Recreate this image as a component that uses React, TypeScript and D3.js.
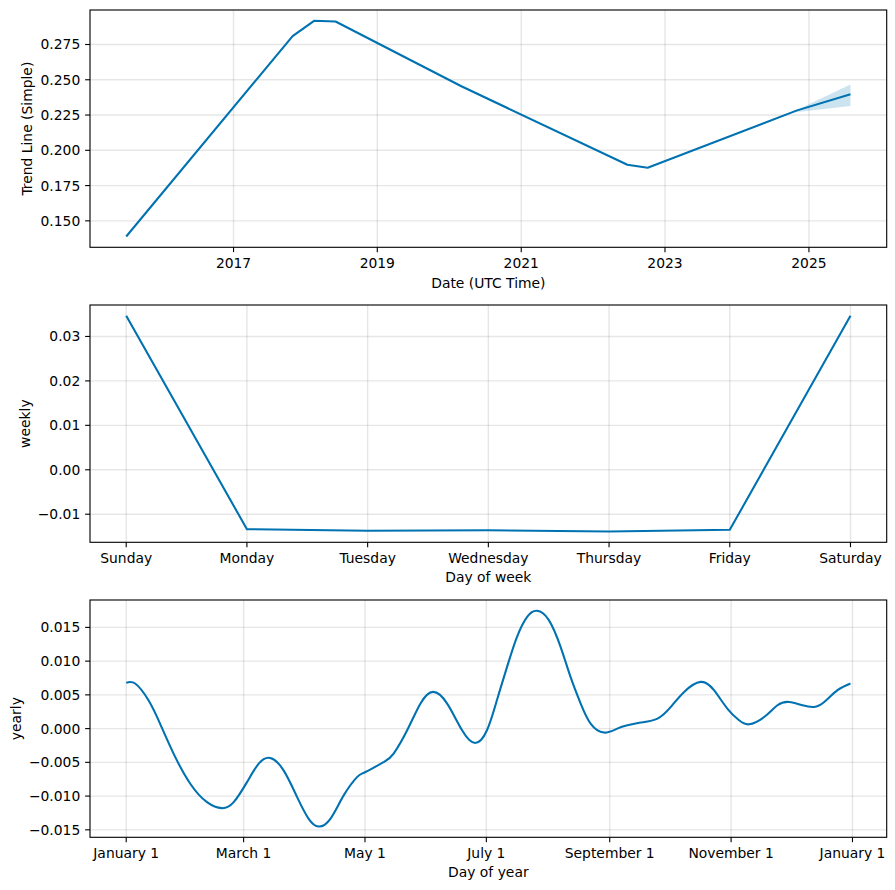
import React from "react";
import * as d3 from "d3";

// ---------- data ----------
const trendDates = ["2015-07-06", "2017-10-28", "2018-02-14", "2018-06-03", "2020-03-03", "2022-06-24", "2022-10-05", "2024-11-02", "2025-07-31"];
const trendValues = [0.1389, 0.2809, 0.2918, 0.2913, 0.2454, 0.1898, 0.1876, 0.2283, 0.2397];
const bandDates = ["2024-10-01", "2025-07-31"];
const bandUpper = [0.2266, 0.2467];
const bandLower = [0.2266, 0.2314];
const trendTickDates = ["2017-01-01", "2019-01-01", "2021-01-01", "2023-01-01", "2025-01-01"];
const trendTickLabels = ["2017", "2019", "2021", "2023", "2025"];
const trendYTicks = [0.15, 0.175, 0.2, 0.225, 0.25, 0.275];

const weekDays = ["Sunday", "Monday", "Tuesday", "Wednesday", "Thursday", "Friday", "Saturday"];
const weeklyValues = [0.03465, -0.01337, -0.01373, -0.0136, -0.01389, -0.01351, 0.03465];
const weeklyYTicks = [-0.01, 0, 0.01, 0.02, 0.03];

const yearlyDays = [0, 4.5, 11.2, 17, 23.8, 32.2, 40.6, 48.1, 54, 60.7, 66.6, 72.4, 79.1, 85.9, 91.7, 96.7, 102.6, 109.3, 116, 120.2, 129.4, 134.4, 141.2, 147.9, 154.2, 161.3, 168.8, 175.4, 181.3, 186.3, 191.4, 196.4, 201.5, 206.5, 212.4, 218.3, 223.3, 228.4, 233.4, 240.1, 246.8, 251.9, 258.6, 267, 273.7, 280.4, 288.7, 295.4, 302.1, 308, 313, 320.6, 327.3, 333.2, 339.9, 345.7, 350.8, 357.5, 364];
const yearlyValues = [0.00677, 0.00668, 0.0042, 0.00074, -0.00371, -0.00817, -0.0109, -0.01179, -0.0109, -0.00793, -0.0052, -0.00436, -0.00619, -0.01016, -0.01337, -0.01451, -0.01337, -0.0099, -0.00719, -0.00644, -0.00496, -0.00371, -0.00025, 0.00371, 0.00544, 0.00371, -0.00025, -0.00213, -0.00025, 0.0042, 0.00915, 0.0136, 0.01657, 0.01746, 0.01608, 0.01212, 0.00766, 0.00371, 0.00074, -0.00059, 0.0, 0.00049, 0.00089, 0.00148, 0.00321, 0.00544, 0.00692, 0.00569, 0.00297, 0.00123, 0.00064, 0.00172, 0.00346, 0.00395, 0.00346, 0.00321, 0.00395, 0.00569, 0.00668];
const yearlyTickDays = [0, 59, 120, 181, 243, 304, 365];
const yearlyTickLabels = ["January 1", "March 1", "May 1", "July 1", "September 1", "November 1", "January 1"];
const yearlyYTicks = [-0.015, -0.01, -0.005, 0, 0.005, 0.01, 0.015];

// ---------- layout ----------
const W = 895;
const H = 890;
const LEFT = 90;
const RIGHT = 886.7;
const PH = 237.3;
const TOPS = [10, 305, 600];
const FONT = "'DejaVu Sans', sans-serif";
const FS = 13.89;
const BLUE = "#0072B2";
const TICK = 4.86;

const parse = (s: string) => new Date(s + "T00:00:00Z");

function pad(ext: [number, number]): [number, number] {
  const m = (ext[1] - ext[0]) * 0.05;
  return [ext[0] - m, ext[1] + m];
}

const fmtMinus = (s: string) => s.replace("-", "\u2212");

type PanelProps = {
  top: number;
  xTicks: { x: number; label: string }[];
  yTicks: { y: number; label: string }[];
  xLabel: string;
  yLabel: string;
  yLabelX: number;
  xLabelY: number;
  children: React.ReactNode;
};

function Panel({ top, xTicks, yTicks, xLabel, yLabel, yLabelX, xLabelY, children }: PanelProps) {
  const bottom = top + PH;
  const clipId = "clip" + Math.round(top);
  return (
    <g>
      <defs>
        <clipPath id={clipId}>
          <rect x={LEFT} y={top} width={RIGHT - LEFT} height={PH} />
        </clipPath>
      </defs>
      {xTicks.map((t, i) => (
        <line key={"gx" + i} x1={t.x} x2={t.x} y1={top} y2={bottom} stroke="gray" strokeOpacity={0.2} strokeWidth={1.39} />
      ))}
      {yTicks.map((t, i) => (
        <line key={"gy" + i} x1={LEFT} x2={RIGHT} y1={t.y} y2={t.y} stroke="gray" strokeOpacity={0.2} strokeWidth={1.39} />
      ))}
      <g clipPath={`url(#${clipId})`}>{children}</g>
      <rect x={LEFT} y={top} width={RIGHT - LEFT} height={PH} fill="none" stroke="black" strokeWidth={1.11} />
      {xTicks.map((t, i) => (
        <g key={"tx" + i}>
          <line x1={t.x} x2={t.x} y1={bottom} y2={bottom + TICK} stroke="black" strokeWidth={1.11} />
          <text x={t.x} y={bottom + TICK + 4.86 + FS * 0.76} textAnchor="middle" fontFamily={FONT} fontSize={FS} fill="black">
            {t.label}
          </text>
        </g>
      ))}
      {yTicks.map((t, i) => (
        <g key={"ty" + i}>
          <line x1={LEFT - TICK} x2={LEFT} y1={t.y} y2={t.y} stroke="black" strokeWidth={1.11} />
          <text x={LEFT - TICK - 4.86} y={t.y} dy="0.36em" textAnchor="end" fontFamily={FONT} fontSize={FS} fill="black">
            {t.label}
          </text>
        </g>
      ))}
      <text x={(LEFT + RIGHT) / 2} y={xLabelY} dy="0.36em" textAnchor="middle" fontFamily={FONT} fontSize={FS} fill="black">
        {xLabel}
      </text>
      <text
        transform={`translate(${yLabelX},${top + PH / 2}) rotate(-90)`}
        dy="0.36em"
        textAnchor="middle"
        fontFamily={FONT}
        fontSize={FS}
        fill="black"
      >
        {yLabel}
      </text>
    </g>
  );
}

export default function App() {
  // ---- trend panel ----
  const tDates = trendDates.map(parse);
  const bDates = bandDates.map(parse);
  const tx = d3
    .scaleUtc()
    .domain(((): [Date, Date] => {
      const ext = d3.extent(tDates) as [Date, Date];
      const m = (ext[1].getTime() - ext[0].getTime()) * 0.05;
      return [new Date(ext[0].getTime() - m), new Date(ext[1].getTime() + m)];
    })())
    .range([LEFT, RIGHT]);
  const tAll = [...trendValues, ...bandUpper, ...bandLower];
  const ty = d3
    .scaleLinear()
    .domain(pad([d3.min(tAll)!, d3.max(tAll)!]))
    .range([TOPS[0] + PH, TOPS[0]]);
  const trendLine = d3
    .line<number>()
    .x((_, i) => tx(tDates[i]))
    .y((d) => ty(d))(trendValues)!;
  const bandArea = d3
    .area<number>()
    .x((_, i) => tx(bDates[i]))
    .y0((_, i) => ty(bandLower[i]))
    .y1((d) => ty(d))(bandUpper)!;

  // ---- weekly panel ----
  const wx = d3.scaleLinear().domain(pad([0, weekDays.length - 1])).range([LEFT, RIGHT]);
  const wy = d3
    .scaleLinear()
    .domain(pad([d3.min(weeklyValues)!, d3.max(weeklyValues)!]))
    .range([TOPS[1] + PH, TOPS[1]]);
  const weeklyLine = d3
    .line<number>()
    .x((_, i) => wx(i))
    .y((d) => wy(d))(weeklyValues)!;

  // ---- yearly panel ----
  const yx = d3.scaleLinear().domain(pad([0, 364])).range([LEFT, RIGHT]);
  const yy = d3
    .scaleLinear()
    .domain(pad([d3.min(yearlyValues)!, d3.max(yearlyValues)!]))
    .range([TOPS[2] + PH, TOPS[2]]);
  const yearlyLine = d3
    .line<number>()
    .x((_, i) => yx(yearlyDays[i]))
    .y((d) => yy(d))
    .curve(d3.curveNatural)(yearlyValues)!;

  const f3 = d3.format(".3f");
  const f2 = d3.format(".2f");

  return (
    <svg width={W} height={H} style={{ position: "absolute", left: 0, top: 0, background: "white" }}>
      <rect x={0} y={0} width={W} height={H} fill="white" />
      <Panel
        top={TOPS[0]}
        xTicks={trendTickDates.map((d, i) => ({ x: tx(parse(d)), label: trendTickLabels[i] }))}
        yTicks={trendYTicks.map((v) => ({ y: ty(v), label: fmtMinus(f3(v)) }))}
        xLabel="Date (UTC Time)"
        yLabel="Trend Line (Simple)"
        yLabelX={27}
        xLabelY={282.5}
      >
        <path d={bandArea} fill={BLUE} fillOpacity={0.2} stroke="none" />
        <path d={trendLine} fill="none" stroke={BLUE} strokeWidth={2.08} strokeLinejoin="round" />
      </Panel>
      <Panel
        top={TOPS[1]}
        xTicks={weekDays.map((d, i) => ({ x: wx(i), label: d }))}
        yTicks={weeklyYTicks.map((v) => ({ y: wy(v), label: fmtMinus(f2(v)) }))}
        xLabel="Day of week"
        yLabel="weekly"
        yLabelX={25}
        xLabelY={577.3}
      >
        <path d={weeklyLine} fill="none" stroke={BLUE} strokeWidth={2.08} strokeLinejoin="round" />
      </Panel>
      <Panel
        top={TOPS[2]}
        xTicks={yearlyTickDays.map((d, i) => ({ x: yx(d), label: yearlyTickLabels[i] }))}
        yTicks={yearlyYTicks.map((v) => ({ y: yy(v), label: fmtMinus(f3(v)) }))}
        xLabel="Day of year"
        yLabel="yearly"
        yLabelX={16}
        xLabelY={872.3}
      >
        <path d={yearlyLine} fill="none" stroke={BLUE} strokeWidth={2.08} strokeLinejoin="round" />
      </Panel>
    </svg>
  );
}
